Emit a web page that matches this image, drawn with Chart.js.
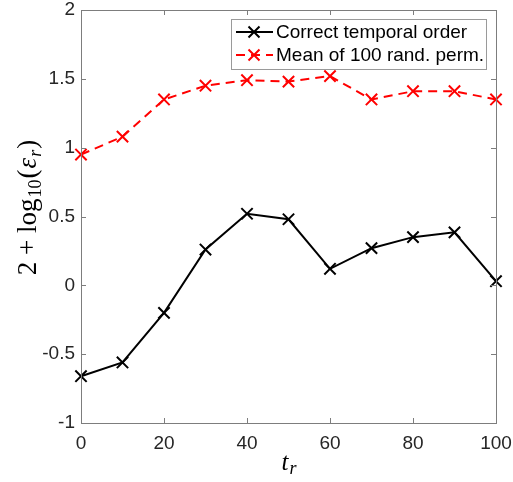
<!DOCTYPE html>
<html>
<head>
<meta charset="utf-8">
<script src="https://cdn.jsdelivr.net/npm/chart.js@4.4.1/dist/chart.umd.min.js"></script>
<style>
  body { margin: 0; background: #fff; }
  #chart { display: block; }
</style>
</head>
<body>
<canvas id="chart" width="513" height="482"></canvas>
<script>
// values
const tValues = [0, 10, 20, 30, 40, 50, 60, 70, 80, 90, 100];
const correctOrder = [-0.66, -0.56, -0.20, 0.26, 0.52, 0.48, 0.12, 0.27, 0.35, 0.385, 0.03];
const randPerm = [0.95, 1.08, 1.35, 1.45, 1.49, 1.48, 1.52, 1.35, 1.41, 1.41, 1.35];
const seriesNames = ['Correct temporal order', 'Mean of 100 rand. perm.'];
const xTicks = [0, 20, 40, 60, 80, 100];
const yTicks = [-1, -0.5, 0, 0.5, 1, 1.5, 2];

const axisColor = '#262626';
const boxColor = '#7d7d7d';
const tickFont = { family: 'Liberation Sans, Arial, sans-serif', size: 19 };

const toPoints = (vals) => vals.map((v, i) => ({ x: tValues[i], y: v }));

// box, inward ticks, legend and math labels (MATLAB look)
const matlabLook = {
  id: 'matlabLook',
  afterDraw(chart) {
    const ctx = chart.ctx;
    const a = chart.chartArea;
    const xs = chart.scales.x;
    const ys = chart.scales.y;
    const tl = 5;
    ctx.save();
    ctx.strokeStyle = boxColor;
    ctx.lineWidth = 1;
    ctx.strokeRect(Math.round(a.left) + 0.5, Math.round(a.top) + 0.5,
      Math.round(a.right - a.left), Math.round(a.bottom - a.top));
    ctx.beginPath();
    xTicks.forEach((t) => {
      const px = Math.round(xs.getPixelForValue(t)) + 0.5;
      ctx.moveTo(px, a.bottom); ctx.lineTo(px, a.bottom - tl);
      ctx.moveTo(px, a.top); ctx.lineTo(px, a.top + tl);
    });
    yTicks.forEach((t) => {
      const py = Math.round(ys.getPixelForValue(t)) + 0.5;
      ctx.moveTo(a.left, py); ctx.lineTo(a.left + tl, py);
      ctx.moveTo(a.right, py); ctx.lineTo(a.right - tl, py);
    });
    ctx.stroke();

    // legend box
    const lx = 231, ly = 19, lw = 255, lh = 50;
    ctx.fillStyle = '#fff';
    ctx.fillRect(lx, ly, lw, lh);
    ctx.strokeStyle = '#9a9a9a';
    ctx.strokeRect(lx + 0.5, ly + 0.5, lw, lh);
    chart.data.datasets.forEach((ds, i) => {
      const cy = ly + 13 + i * 23;
      ctx.strokeStyle = ds.borderColor;
      ctx.lineWidth = 2;
      ctx.setLineDash(ds.borderDash || []);
      ctx.beginPath();
      ctx.moveTo(lx + 5, cy); ctx.lineTo(lx + 42, cy);
      ctx.stroke();
      ctx.setLineDash([]);
      const mx = lx + 23, r = 5.5;
      ctx.beginPath();
      ctx.moveTo(mx - r, cy - r); ctx.lineTo(mx + r, cy + r);
      ctx.moveTo(mx - r, cy + r); ctx.lineTo(mx + r, cy - r);
      ctx.stroke();
      ctx.fillStyle = '#000';
      ctx.font = '19px Liberation Sans, Arial, sans-serif';
      ctx.textBaseline = 'middle';
      ctx.textAlign = 'left';
      ctx.fillText(ds.label, lx + 45, cy + 1);
    });

    // x label: t_r
    ctx.fillStyle = '#000';
    ctx.textBaseline = 'alphabetic';
    const xc = (a.left + a.right) / 2;
    ctx.font = 'italic 25px Liberation Serif, serif';
    ctx.textAlign = 'right';
    ctx.fillText('t', xc, 470);
    ctx.font = 'italic 18px Liberation Serif, serif';
    ctx.textAlign = 'left';
    ctx.fillText('r', xc + 1, 474);

    // y label: 2 + log10(eps_r)
    ctx.translate(36, 207);
    ctx.rotate(-Math.PI / 2);
    const parts = [
      { s: '2 + log', f: '27px Liberation Serif, serif', dy: 0 },
      { s: '10', f: '18px Liberation Serif, serif', dy: 5 },
      { s: '(', f: '27px Liberation Serif, serif', dy: 0 },
      { s: 'ε', f: 'italic 27px Liberation Serif, serif', dy: 0 },
      { s: 'r', f: 'italic 18px Liberation Serif, serif', dy: 5 },
      { s: ')', f: '27px Liberation Serif, serif', dy: 0 }
    ];
    let total = 0;
    parts.forEach((p) => { ctx.font = p.f; total += ctx.measureText(p.s).width + 1; });
    let x = -total / 2;
    ctx.textAlign = 'left';
    parts.forEach((p) => {
      ctx.font = p.f;
      ctx.fillText(p.s, x, p.dy);
      x += ctx.measureText(p.s).width + 1;
    });
    ctx.restore();
  }
};

const data = {
  datasets: [
    {
      label: seriesNames[0],
      data: toPoints(correctOrder),
      borderColor: '#000',
      backgroundColor: '#000',
      borderWidth: 2,
      pointStyle: 'crossRot',
      pointRadius: 8,
      pointBorderWidth: 2,
      pointBorderColor: '#000',
      clip: false
    },
    {
      label: seriesNames[1],
      data: toPoints(randPerm),
      borderColor: '#ff0000',
      backgroundColor: '#ff0000',
      borderWidth: 2,
      borderDash: [9, 6],
      pointStyle: 'crossRot',
      pointRadius: 8,
      pointBorderWidth: 2,
      pointBorderColor: '#ff0000',
      clip: false
    }
  ]
};

const config = {
  type: 'line',
  data: data,
  options: {
    responsive: false,
    animation: false,
    layout: { padding: { top: 10, right: 17, left: 0, bottom: 0 } },
    plugins: { legend: { display: false }, tooltip: { enabled: false } },
    scales: {
      x: {
        type: 'linear',
        min: 0,
        max: 100,
        grid: { display: false, drawTicks: false },
        border: { display: false },
        afterBuildTicks: (scale) => { scale.ticks = xTicks.map((v) => ({ value: v })); },
        afterFit: (scale) => {
          scale.height = 59;
          scale.paddingLeft = 0;
          scale.paddingRight = 0;
        },
        ticks: { color: axisColor, font: tickFont, padding: 9, maxRotation: 0,
          callback: (v) => String(v) }
      },
      y: {
        min: -1,
        max: 2,
        grid: { display: false, drawTicks: false },
        border: { display: false },
        afterBuildTicks: (scale) => { scale.ticks = yTicks.map((v) => ({ value: v })); },
        afterFit: (scale) => {
          scale.width = 81;
          scale.paddingTop = 0;
          scale.paddingBottom = 0;
        },
        ticks: { color: axisColor, font: tickFont, padding: 6,
          callback: (v) => String(v) }
      }
    }
  },
  plugins: [matlabLook]
};

new Chart(document.querySelector('#chart'), config);
</script>
</body>
</html>
